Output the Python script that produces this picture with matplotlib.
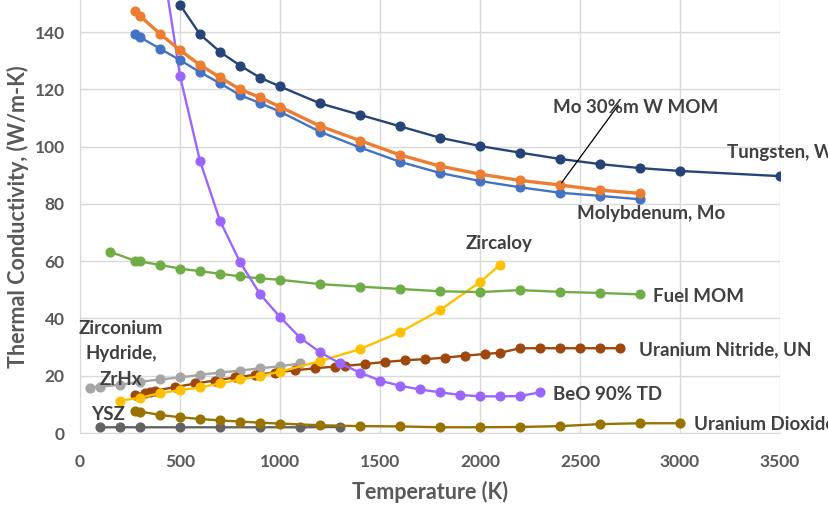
import matplotlib.pyplot as plt

plt.rcParams['font.family'] = ['Lato', 'DejaVu Sans']
plt.rcParams['font.weight'] = 'bold'

# temperatures (K) and thermal conductivity (W/m-K)
t_w = [500, 600, 700, 800, 900, 1000, 1200, 1400, 1600, 1800, 2000, 2200, 2400, 2600, 2800, 3000, 3500]
k_w = [149.5, 139.2, 133.1, 128.3, 124.1, 121.0, 115.1, 111.1, 107.1, 103.1, 100.2, 97.9, 95.7, 93.9, 92.5, 91.5, 89.7]

t_mow = [273, 300, 400, 500, 600, 700, 800, 900, 1000, 1200, 1400, 1600, 1800, 2000, 2200, 2400, 2600, 2800]
k_mow = [147.3, 145.6, 139.4, 133.7, 128.5, 124.2, 120.0, 117.2, 113.9, 107.2, 102.1, 97.1, 93.2, 90.4, 88.2, 86.6, 84.8, 83.7]

t_mo = [273, 300, 400, 500, 600, 700, 800, 900, 1000, 1200, 1400, 1600, 1800, 2000, 2200, 2400, 2600, 2800]
k_mo = [139.2, 138.2, 134.2, 130.2, 126.0, 122.1, 118.0, 115.2, 112.2, 105.2, 99.7, 94.7, 90.8, 88.0, 85.8, 83.9, 82.8, 81.6]

t_beo = [400, 500, 600, 700, 800, 900, 1000, 1100, 1200, 1300, 1400, 1500, 1600, 1700, 1800, 1900, 2000, 2100, 2200, 2300]
k_beo = [170.0, 124.7, 95.0, 74.1, 59.7, 48.5, 40.5, 33.3, 28.2, 24.3, 21.1, 18.3, 16.5, 15.2, 14.2, 13.3, 12.8, 12.8, 12.9, 14.2]

t_fuel = [150, 273, 300, 400, 500, 600, 700, 800, 900, 1000, 1200, 1400, 1600, 1800, 2000, 2200, 2400, 2600, 2800]
k_fuel = [63.3, 60.2, 59.9, 58.7, 57.4, 56.5, 55.6, 54.7, 54.0, 53.5, 52.0, 51.1, 50.3, 49.5, 49.2, 49.9, 49.3, 48.9, 48.4]

t_zry = [200, 300, 400, 500, 600, 700, 800, 900, 1000, 1200, 1400, 1600, 1800, 2000, 2100]
k_zry = [11.3, 12.3, 13.9, 15.0, 15.9, 17.3, 18.7, 19.9, 21.4, 25.1, 29.3, 35.2, 42.9, 52.7, 58.7]

t_un = [273, 325, 350, 375, 475, 575, 675, 775, 875, 975, 1075, 1175, 1275, 1325, 1425, 1525, 1625,
        1725, 1825, 1925, 2025, 2100, 2200, 2300, 2400, 2500, 2600, 2700]
k_un = [13.3, 14.1, 14.4, 14.8, 16.0, 17.3, 18.3, 19.4, 20.3, 21.1, 21.9, 22.6, 23.2, 23.4, 24.1, 24.8, 25.4,
        25.8, 26.3, 27.0, 27.6, 28.0, 29.6, 29.6, 29.6, 29.6, 29.6, 29.6]

t_zrh = [50, 100, 200, 300, 400, 500, 600, 700, 800, 900, 1000, 1100]
k_zrh = [15.8, 16.2, 16.8, 17.9, 18.7, 19.4, 20.3, 21.1, 21.8, 22.6, 23.3, 24.3]

t_uo2 = [273, 300, 400, 500, 600, 700, 800, 900, 1000, 1200, 1400, 1600, 1800, 2000, 2200, 2400, 2600, 2800, 3000]
k_uo2 = [7.7, 7.5, 6.3, 5.5, 4.9, 4.4, 4.0, 3.6, 3.3, 2.7, 2.4, 2.3, 2.0, 2.0, 2.1, 2.4, 3.1, 3.4, 3.4]

t_ysz = [100, 200, 300, 500, 700, 900, 1100, 1300]
k_ysz = [2.0, 2.0, 2.0, 2.0, 2.0, 2.0, 2.0, 2.1]

fig = plt.figure(figsize=(8.29, 5.08), dpi=100)
ax = fig.add_axes([80 / 829, 1 - 433 / 508, 700 / 829, 433 / 508])

series = [
    (t_ysz, k_ysz, '#636363', 1.7),
    (t_uo2, k_uo2, '#997300', 1.7),
    (t_zrh, k_zrh, '#A5A5A5', 1.7),
    (t_un, k_un, '#9E480E', 1.7),
    (t_zry, k_zry, '#FFC000', 1.7),
    (t_fuel, k_fuel, '#70AD47', 1.7),
    (t_beo, k_beo, '#9966FF', 1.7),
    (t_mo, k_mo, '#4472C4', 1.7),
    (t_mow, k_mow, '#ED7D31', 2.4),
    (t_w, k_w, '#264478', 1.7),
]
for t, k, c, lw in series:
    ax.plot(t, k, color=c, lw=lw, marker='o', ms=6.3)

ax.set_xlim(0, 3500)
ax.set_ylim(0, 151.2)
ax.set_xticks(range(0, 3501, 500))
ax.set_yticks(range(0, 141, 20))
ax.grid(color='#D9D9D9', lw=1)
ax.set_axisbelow(True)
for s in ['top', 'right']:
    ax.spines[s].set_visible(False)
for s in ['left', 'bottom']:
    ax.spines[s].set_color('#D9D9D9')
ax.tick_params(length=0, labelsize=12.5, labelcolor='#595959')
ax.tick_params(axis='x', pad=15)
ax.tick_params(axis='y', pad=11)
for lab in ax.get_xticklabels() + ax.get_yticklabels():
    lab.set_fontweight('bold')

ax.set_xlabel('Temperature (K)', fontsize=15.5, color='#595959', fontweight='bold', labelpad=8)
ax.set_ylabel('Thermal Conductivity, (W/m-K)', fontsize=15.5, color='#595959', fontweight='bold', labelpad=4)

# series labels; the two on the right run past the figure edge as in the original
lbl = dict(fontsize=13.5, color='#404040', fontweight='bold', va='center', clip_on=False)
ax.text(2365, 113.5, 'Mo 30%m W MOM', **lbl)
ax.annotate('', xy=(2400, 86.6), xytext=(2700, 115.3),
            arrowprops=dict(arrowstyle='-', color='black', lw=0.9))
ax.text(3235, 97.8, 'Tungsten, W', **lbl)
ax.text(2485, 76.5, 'Molybdenum, Mo', **lbl)
ax.text(1930, 66.0, 'Zircaloy', **lbl)
ax.text(2865, 47.8, 'Fuel MOM', **lbl)
ax.text(2795, 29.0, 'Uranium Nitride, UN', **lbl)
ax.text(2365, 13.6, 'BeO 90% TD', **lbl)
ax.text(3070, 2.8, 'Uranium Dioxide', **lbl)
ax.text(205, 27.6, 'Zirconium\nHydride,\nZrHx', ha='center', linespacing=1.6, **lbl)
ax.text(55, 6.3, 'YSZ', **lbl)

fig.savefig('out.png', dpi=100)
